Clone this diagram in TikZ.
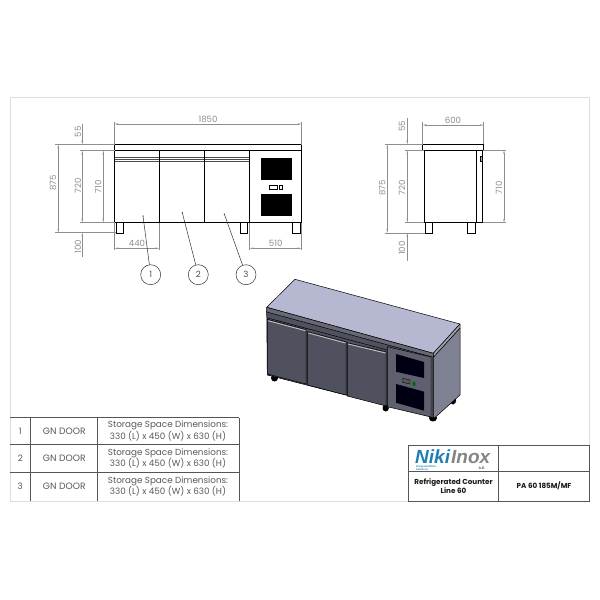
\documentclass[tikz,border=0pt]{standalone}
\usepackage{fontspec}
\setmainfont{Poppins}
\newfontfamily\logofont{Liberation Sans}
\usetikzlibrary{arrows.meta}
\definecolor{dimc}{HTML}{8E8E8E}
\definecolor{tabc}{HTML}{555555}
\definecolor{framec}{HTML}{DDDDDD}
\definecolor{logob}{HTML}{1F7FB5}
\definecolor{logog}{HTML}{858585}
\definecolor{topc}{HTML}{B5B8D0}
\definecolor{doorc}{HTML}{4F515E}
\definecolor{stripc}{HTML}{666875}
\definecolor{sidec}{HTML}{7E8192}
\definecolor{panelc}{HTML}{5E606E}
\tikzset{
 x=1pt,y=-1pt,
 dimline/.style={draw=dimc,line width=.45pt,{Stealth[length=4pt,width=1.6pt]}-{Stealth[length=4pt,width=1.6pt]}},
 arrowdown/.style={draw=dimc,line width=.45pt,-{Stealth[length=4pt,width=1.6pt]}},
 extline/.style={draw=dimc,line width=.45pt},
 dimtext/.style={text=dimc,font=\fontsize{8.6}{9}\selectfont,inner sep=0pt},
 dimrot/.style={dimtext,rotate=90},
 obj/.style={draw=black,line width=.8pt},
 objf/.style={draw=black,line width=.8pt,fill=white},
 leader/.style={draw=black!80,line width=.5pt},
 balloon/.style={circle,draw=black!80,line width=.5pt,minimum size=20pt,inner sep=0pt,text=black!70,font=\fontsize{8.6}{9}\selectfont},
 tabline/.style={draw=tabc,line width=.8pt},
 tabtext/.style={text=black!65,font=\fontsize{8.8}{8.6}\selectfont,inner sep=0pt,align=center},
 titletext/.style={text=black!90,font=\fontsize{7.2}{7.6}\bfseries\selectfont,inner sep=0pt,align=center},
 iso/.style={draw=black,line width=.5pt,line join=round},
 logotext/.style={inner sep=0pt,anchor=base west,font=\logofont\fontsize{19}{19}\bfseries\itshape\selectfont},
}
\begin{document}
\begin{tikzpicture}
\useasboundingbox (0,0) rectangle (600,600);
\fill[white] (0,0) rectangle (600,600);
% sheet frame
\draw[framec,line width=.8pt] (10,97.5) rectangle (589.3,501.5);
% ---------- front view
\draw[objf] (116.3,222.5) rectangle (123.3,233);
\draw[objf] (240.3,222.5) rectangle (247.3,233);
\draw[objf] (292.7,222.5) rectangle (300,233);
\draw[objf] (114.5,150.5) rectangle (301.5,222.5);
\draw[objf] (114.5,144.5) rectangle (301.5,150.5);
\foreach \y in {157.3,159.3,161.7}{\draw[draw=black!70,line width=.5pt] (114.5,\y) -- (249.7,\y);}
\foreach \x in {159.3,204.3,249.7}{\draw[draw=black,line width=1pt] (\x,150.5) -- (\x,222.5);}
\fill[black] (260.7,158) rectangle (291.7,180);
\fill[black] (260.7,194) rectangle (291.7,216.3);
\draw[black,line width=.5pt] (269,185.3) rectangle (277,189);
\draw[black,line width=.5pt] (279.7,185.3) rectangle (282.3,189);
% front dims
\coordinate (fa) at (114.5,124); \coordinate (fb) at (301.5,124);
\draw[dimline] (fa) -- (fb);
\draw[extline] (114.5,122) -- (114.5,144.5) (301.5,122) -- (301.5,144.5);
\node[dimtext] at (208,119) {1850};
\draw[extline] (55,144.5) -- (114.5,144.5) (55,232.7) -- (116,232.7);
\draw[extline] (80,150.5) -- (114.5,150.5) (80,222.5) -- (114.5,222.5);
\draw[dimline] (58.3,144.5) -- (58.3,232.7);
\node[dimrot] at (53,183) {875};
\draw[arrowdown] (82.3,124) -- (82.3,144.5);
\draw[dimline] (82.3,150.5) -- (82.3,222.5);
\node[dimrot] at (78,131.7) {55};
\node[dimrot] at (78,186) {720};
\draw[arrowdown] (82.3,256.7) -- (82.3,232.7);
\node[dimrot] at (78,246.7) {100};
\draw[dimline] (103.3,150.5) -- (103.3,222.5);
\node[dimrot] at (98.3,186.7) {710};
\draw[extline] (114.5,222.5) -- (114.5,250) (159.3,222.5) -- (159.3,250) (249.7,222.5) -- (249.7,250) (301.5,222.5) -- (301.5,250);
\draw[dimline] (114.5,248.3) -- (159.3,248.3);
\node[dimtext] at (137,243) {440};
\draw[dimline] (249.7,248.3) -- (301.5,248.3);
\node[dimtext] at (275.7,243) {510};
% balloons
\coordinate (l1) at (143,216); \coordinate (l2) at (182.3,212.7); \coordinate (l3) at (224.3,214);
\node[balloon] (b1) at (150.7,274.7) {1};
\node[balloon] (b2) at (198.3,274.7) {2};
\node[balloon] (b3) at (246,274.7) {3};
\draw[leader] (l1) -- (b1);
\draw[leader] (l2) -- (b2);
\draw[leader] (l3) -- (b3);
\fill[black!80] (l1) circle (.6pt) (l2) circle (.6pt) (l3) circle (.6pt);
% ---------- side view
\draw[objf] (425.3,222.7) rectangle (432.7,233.3);
\draw[objf] (467.7,222.7) rectangle (475.3,233.3);
\draw[objf] (424.3,150.3) rectangle (482.7,222.7);
\draw[obj,line width=1pt] (476.3,150.3) -- (476.3,222.7);
\draw[objf] (422.7,144.3) rectangle (483.7,150.3);
\draw[black,line width=.6pt,fill=black!30] (480,156) rectangle (482,161);
\draw[dimline] (422.7,125) -- (483.7,125);
\draw[extline] (422.7,122) -- (422.7,144.3) (483.7,122) -- (483.7,144.3);
\node[dimtext] at (453,120) {600};
\draw[extline] (385,144.3) -- (422.7,144.3) (385,233) -- (425,233);
\draw[extline] (405,150.3) -- (424,150.3) (405,222.7) -- (424,222.7);
\draw[dimline] (387.3,144.3) -- (387.3,233);
\node[dimrot] at (382.3,188) {875};
\draw[arrowdown] (407.3,118) -- (407.3,144.3);
\draw[dimline] (407.3,150.3) -- (407.3,222.7);
\draw[arrowdown] (407.3,261) -- (407.3,233);
\node[dimrot] at (402,126) {55};
\node[dimrot] at (402,188) {720};
\node[dimrot] at (402,248) {100};
\draw[extline] (483,150.3) -- (506,150.3) (483,222.7) -- (506,222.7);
\draw[dimline] (504,150.3) -- (504,222.7);
\node[dimrot] at (499,188) {710};
% ---------- isometric view
\fill[black] (274.5,378) ellipse (3.5pt and 3.5pt);
\fill[black] (385.7,408) ellipse (3.2pt and 3.5pt);
\fill[black] (433,418) ellipse (4pt and 3.5pt);
\fill[black] (453,400) ellipse (3.2pt and 4.5pt);
% right side
\draw[iso,fill=sidec] (433.3,357) -- (460,328) -- (460,395) -- (435,417.5) -- (433.3,417.5) -- cycle;
% front
\draw[iso,fill=doorc] (266.7,311) -- (433.3,357) -- (433.3,417.3) -- (267.3,375) -- cycle;
% top
\draw[iso,fill=topc] (295,279.3) -- (460,324) -- (433.3,353.3) -- (266.7,307.3) -- cycle;
\draw[iso,fill=stripc] (266.7,307.3) -- (433.3,353.3) -- (433.3,357.3) -- (266.7,312) -- cycle;
\draw[iso,fill=sidec!75] (433.3,353.3) -- (460,324) -- (460,328) -- (433.3,357.3) -- cycle;
\draw[black,line width=.5pt] (266.7,317.7) -- (387,350);
% doors
\draw[iso,fill=doorc] (267.3,319.3) -- (306,329.5) -- (306,384) -- (267.3,374) -- cycle;
\draw[iso,fill=doorc] (307.5,331.7) -- (346,341.7) -- (346,395) -- (307.5,385) -- cycle;
\draw[iso,fill=doorc] (347.3,342.7) -- (386,351.7) -- (386,406) -- (347.3,396) -- cycle;
\draw[draw=black!25,line width=.9pt] (268,320.7) -- (305.5,330.7) (308.3,333) -- (345.5,343) (348,344) -- (385.5,353);
\draw[iso,fill=panelc] (387.3,346.7) -- (431,357) -- (431,417) -- (387.3,406.7) -- cycle;
\fill[black!30!panelc] (431,357) -- (433.3,357.5) -- (433.3,417.3) -- (431,417) -- cycle;
\fill[black!92!blue] (396,354) -- (424,362) -- (424,378) -- (396,371.7) -- cycle;
\fill[black!92!blue] (396,384) -- (424,391.7) -- (424,410.7) -- (396,402.7) -- cycle;
\draw[black,line width=.4pt,fill=black!65] (402.7,378.3) -- (410,380) -- (410,384) -- (402.7,382.3) -- cycle;
\fill[black!60!green] (412.7,381.7) -- (415.3,382.3) -- (415.3,386) -- (412.7,385.3) -- cycle;
% ---------- table
\draw[tabline] (10,417.7) -- (239,417.7) (10,444.3) -- (239,444.3) (10,472.3) -- (239,472.3);
\draw[tabline] (30.7,417.7) -- (30.7,501) (97.7,417.7) -- (97.7,501) (239,417.7) -- (239,501);
\foreach \n/\y in {1/431,2/458.3,3/486.5}{
 \node[tabtext] at (20.3,\y) {\n};
 \node[tabtext,font=\fontsize{9.2}{9.4}\selectfont] at (64.3,\y) {GN DOOR};
 \node[tabtext] at (168,\y) {Storage Space Dimensions:\\330 (L) x 450 (W) x 630 (H)};
}
% ---------- title block
\draw[tabline] (408.3,445.7) rectangle (589,501.7);
\draw[tabline] (408.3,471) -- (589,471) (498.7,445.7) -- (498.7,501.7);
\node[logotext,text=logob] at (415,463) {Niki};
\node[logotext,text=logog] at (451,463) {Inox};
\node[tabtext,text=logob,anchor=west,align=left,font=\logofont\fontsize{2.6}{2.7}\bfseries\selectfont] at (416,467.9) {Integrated Work\\Solutions};
\node[tabtext,text=black!70,font=\logofont\fontsize{3.5}{3.5}\bfseries\selectfont] at (482,468.5) {A.E.};
\node[titletext] at (453.5,486) {Refrigerated Counter\\Line 60};
\node[titletext] at (544,486) {PA 60 185M/MF};
\end{tikzpicture}
\end{document}
